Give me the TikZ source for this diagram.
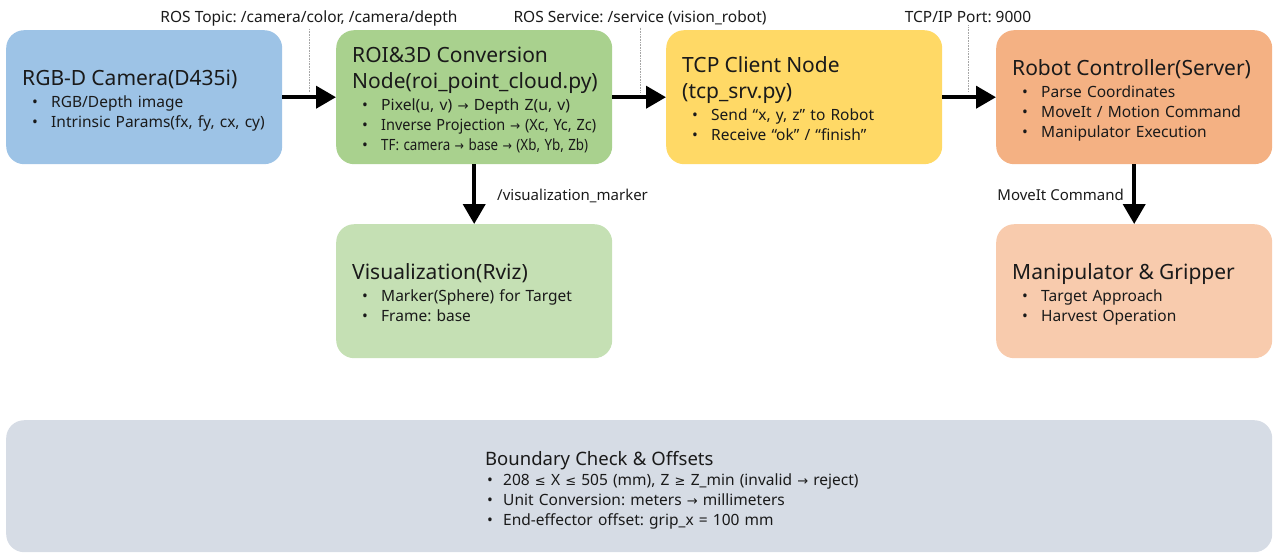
\documentclass[tikz,border=0pt]{standalone}
\usepackage{fontspec}
\usepackage{graphicx}
\setmainfont{Noto Sans}
\newfontfamily\symf{DejaVu Sans}
\usetikzlibrary{arrows.meta}
\setlength{\parindent}{0pt}
\frenchspacing
\definecolor{camc}{HTML}{9DC3E6}
\definecolor{roic}{HTML}{A9D18E}
\definecolor{tcpc}{HTML}{FFD966}
\definecolor{robc}{HTML}{F4B183}
\definecolor{visc}{HTML}{C5E0B4}
\definecolor{manc}{HTML}{F8CBAD}
\definecolor{bndc}{HTML}{D6DCE5}
\definecolor{txtc}{HTML}{1A1A1A}
\newcommand{\rarr}{{\symf\fontsize{13}{13}\selectfont →}}
\newcommand{\leqq}{{\symf\fontsize{13}{13}\selectfont ≤}}
\newcommand{\geqq}{{\symf\fontsize{13}{13}\selectfont ≥}}
% stacked lines with a fixed pitch
\newcommand{\stk}[1]{\vbox{\offinterlineskip\kern3pt #1}}
\newcommand{\tl}[1]{\hbox{\fontsize{21}{26}\selectfont\vrule height 21pt depth 8pt width 0pt #1}}
\newcommand{\tlgap}{\kern-3pt}
\newcommand{\bl}[1]{\hbox{\vrule height 14pt depth 6pt width 0pt\hspace*{10pt}\makebox[19pt][l]{•}#1}}
\newcommand{\fitw}[2]{\resizebox{#1}{\height}{#2}}
\tikzset{
  box/.style={rounded corners=18pt, minimum width=276pt, minimum height=134pt,
    text width=244pt, inner xsep=16pt, inner ysep=0pt, anchor=north west,
    text=txtc, font=\fontsize{15.5}{20}\selectfont},
  lbl/.style={text=txtc, font=\fontsize{15.5}{18}\selectfont, inner sep=0pt},
  slbl/.style={lbl, font=\fontsize{15}{18}\selectfont},
  flow/.style={line width=4pt, -{Triangle[length=20pt,width=22pt]}},
  guide/.style={densely dotted, draw=gray!70, line width=0.6pt}
}
\begin{document}
\begin{tikzpicture}[x=1pt,y=-1pt]
\useasboundingbox (0,0) rectangle (1274,552);
\node[box, fill=camc] (cam) at (6,30) {\stk{\tl{RGB-D Camera(D435i)}\bl{RGB/Depth image}\bl{Intrinsic Params(fx, fy, cx, cy)}}};
\node[box, fill=roic] (roi) at (336,30) {\stk{\tl{ROI\&3D Conversion}\tlgap\tl{Node(roi\_point\_cloud.py)}%
  \bl{\fitw{189pt}{Pixel(u, v) \rarr{} Depth Z(u, v)}}%
  \bl{\fitw{215pt}{Inverse Projection \rarr{} (Xc, Yc, Zc)}}%
  \bl{\fitw{207pt}{TF: camera \rarr{} base \rarr{} (Xb, Yb, Zb)}}}};
\node[box, fill=tcpc] (tcp) at (666,30) {\stk{\tl{TCP Client Node}\tlgap\tl{(tcp\_srv.py)}\bl{Send “x, y, z” to Robot}\bl{Receive “ok” / “finish”}}};
\node[box, fill=robc] (rob) at (996,30) {\stk{\tl{Robot Controller(Server)}\bl{Parse Coordinates}\bl{MoveIt / Motion Command}\bl{Manipulator Execution}}};
\node[box, fill=visc] (vis) at (336,224) {\stk{\tl{Visualization(Rviz)}\bl{Marker(Sphere) for Target}\bl{Frame: base}}};
\node[box, fill=manc] (man) at (996,224) {\stk{\tl{Manipulator \& Gripper}\bl{Target Approach}\bl{Harvest Operation}}};
\node[box, fill=bndc, minimum width=1266pt, text width=1234pt, minimum height=132pt] (bnd) at (6,420) {};
\node[anchor=north west, text=txtc, font=\fontsize{15.5}{20}\selectfont, text width=420pt, inner sep=0pt] (bndt) at (485,447)
  {\vbox{\offinterlineskip
   \hbox{\fontsize{18.5}{22}\selectfont\vrule height 18pt depth 6pt width 0pt Boundary Check \& Offsets}%
   \hbox{\vrule height 14pt depth 6pt width 0pt\hspace*{2pt}\makebox[16pt][l]{•}208 \leqq{} X \leqq{} 505 (mm), Z \geqq{} Z\_min (invalid \rarr{} reject)}%
   \hbox{\vrule height 14pt depth 6pt width 0pt\hspace*{2pt}\makebox[16pt][l]{•}Unit Conversion: meters \rarr{} millimeters}%
   \hbox{\vrule height 14pt depth 6pt width 0pt\hspace*{2pt}\makebox[16pt][l]{•}End-effector offset: grip\_x = 100 mm}}};
% labels
\node[lbl, anchor=base] (l1) at (309,22) {ROS Topic: /camera/color, /camera/depth};
\node[lbl, anchor=base] (l2) at (640,22) {ROS Service: /service (vision\_robot)};
\node[lbl, anchor=base] (l3) at (968,22) {TCP/IP Port: 9000};
\node[slbl, anchor=base west] (l4) at (497,200) {/visualization\_marker};
\node[slbl, anchor=base east] (l5) at (1124,200) {MoveIt Command};
\coordinate (d1) at (309,92);
\coordinate (d2) at (640,92);
\coordinate (d3) at (968,92);
\draw[guide] ([yshift=-3pt]l1.south) -- (d1);
\draw[guide] ([yshift=-3pt]l2.south) -- (d2);
\draw[guide] ([yshift=-3pt]l3.south) -- (d3);
% arrows
\draw[flow] (cam.east) -- (roi.west);
\draw[flow] (roi.east) -- (tcp.west);
\draw[flow] (tcp.east) -- (rob.west);
\draw[flow] (roi.south) -- (vis.north);
\draw[flow] (rob.south) -- (man.north);
\end{tikzpicture}
\end{document}
